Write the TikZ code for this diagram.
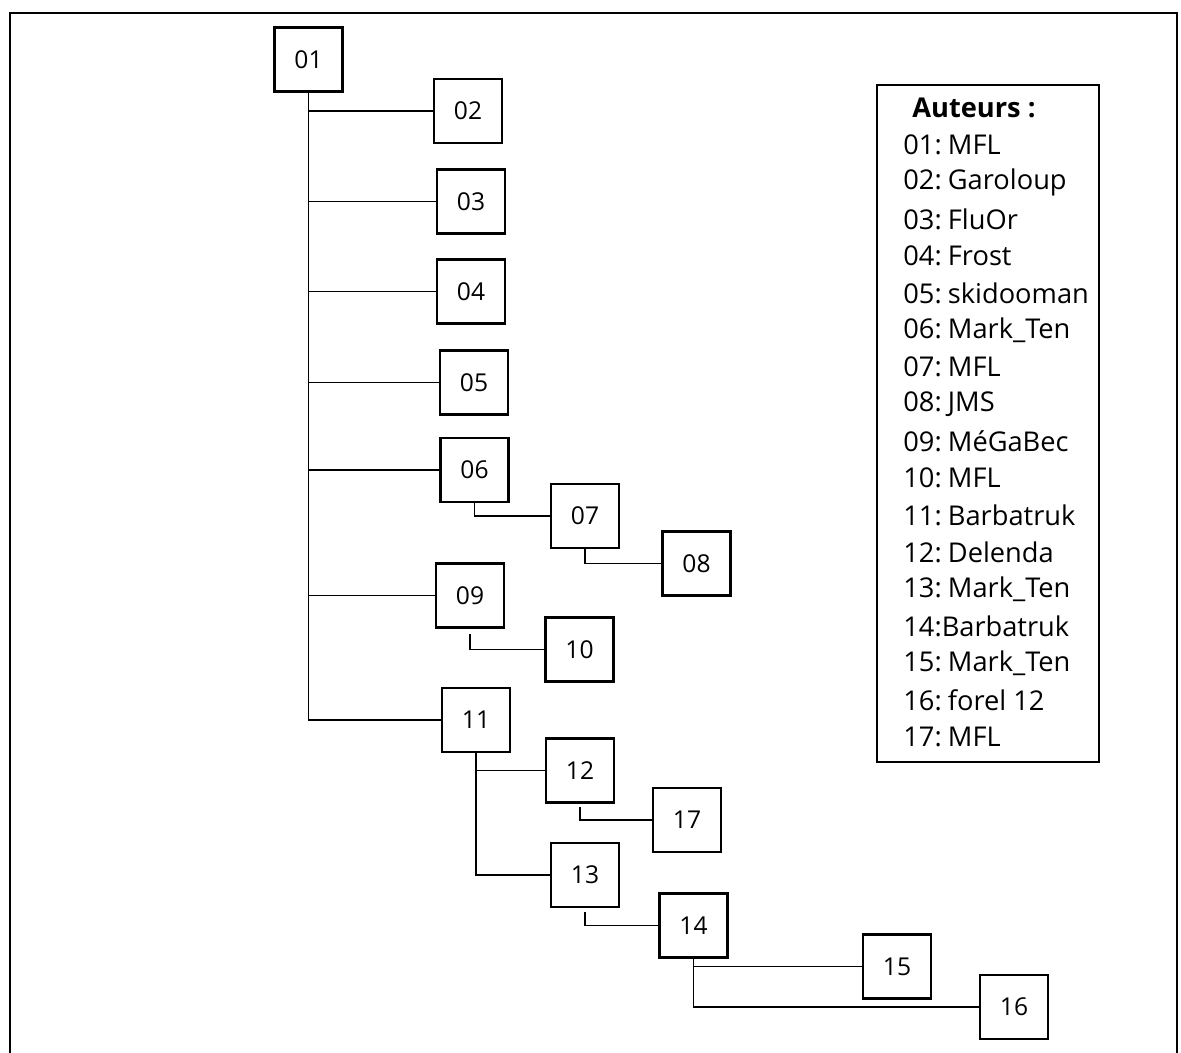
\documentclass[tikz,border=0pt]{standalone}
\usepackage{fontspec}
\setmainfont{Open Sans}
\usetikzlibrary{positioning}

\begin{document}
\begin{tikzpicture}[
    x=0.02cm, y=-0.02cm,
    post/.style={draw, line width=1.5pt, minimum width=1.36cm, minimum height=1.28cm, inner sep=0pt, font=\fontsize{14}{16}\selectfont},
    link/.style={line width=1.1pt},
    legendbox/.style={draw, line width=1.3pt, minimum width=4.44cm, minimum height=13.54cm, inner sep=0pt},
    entry/.style={anchor=west, inner sep=0pt, font={\fontsize{15.5}{17}\selectfont\spaceskip=0.14em\relax}},
]
\useasboundingbox (0,0) rectangle (1181,1053);

% Frame
\draw[line width=1.5pt] (10,1070) -- (10,13) -- (1177,13) -- (1177,1070);

% Posts
\node[post] (p01) at (308.5,59.5) {01};
\node[post] (p02) at (468,111) {02};
\node[post] (p03) at (471,201.5) {03};
\node[post] (p04) at (471,291.5) {04};
\node[post] (p05) at (474,382.5) {05};
\node[post] (p06) at (474.5,470) {06};
\node[post] (p07) at (585,516) {07};
\node[post] (p08) at (696.5,563.5) {08};
\node[post] (p09) at (470,595.5) {09};
\node[post] (p10) at (579.5,649.5) {10};
\node[post] (p11) at (476,720) {11};
\node[post] (p12) at (580,770.5) {12};
\node[post] (p17) at (687,820) {17};
\node[post] (p13) at (585,875) {13};
\node[post] (p14) at (693.5,925.5) {14};
\node[post] (p15) at (897,966.5) {15};
\node[post] (p16) at (1014,1007) {16};

% Legend
\node[legendbox] (legend) at (988,423.5) {};
\node[entry, font={\fontsize{15.5}{17}\selectfont\bfseries}] (title) at (912,108) {Auteurs :};
\foreach \txt [count=\k] in {01: MFL, 02: Garoloup, 03: FluOr, 04: Frost, 05: skidooman,
    06: Mark\_Ten, 07: MFL, 08: JMS, 09: MéGaBec, 10: MFL, 11: Barbatruk, 12: Delenda,
    13: Mark\_Ten, 14:Barbatruk, 15: Mark\_Ten, 16: forel\hspace{0.26em}12, 17: MFL}
  \node[entry] (a\k) at (903,{145+37*(\k-1)}) {\txt};

% Main trunk
\draw[link] (p01.south) |- (p11.west);
\foreach \c in {02,03,04,05,06,09}
  \draw[link] (p01.south |- p\c.west) -- (p\c.west);

% Replies
\draw[link] (p06.south) |- (p07.west);
\draw[link] (p07.south) |- (p08.west);
\draw[link, shorten <=3pt] (p09.south) |- (p10.west);
\draw[link] (p11.south) |- (p13.west);
\draw[link] (p11.south |- p12.west) -- (p12.west);
\draw[link, shorten <=2pt] (p12.south) |- (p17.west);
\draw[link, shorten <=2pt] (p13.south) |- (p14.west);
\draw[link] (p14.south) |- (p16.west);
\draw[link] (p14.south |- p15.west) -- (p15.west);
\end{tikzpicture}
\end{document}
